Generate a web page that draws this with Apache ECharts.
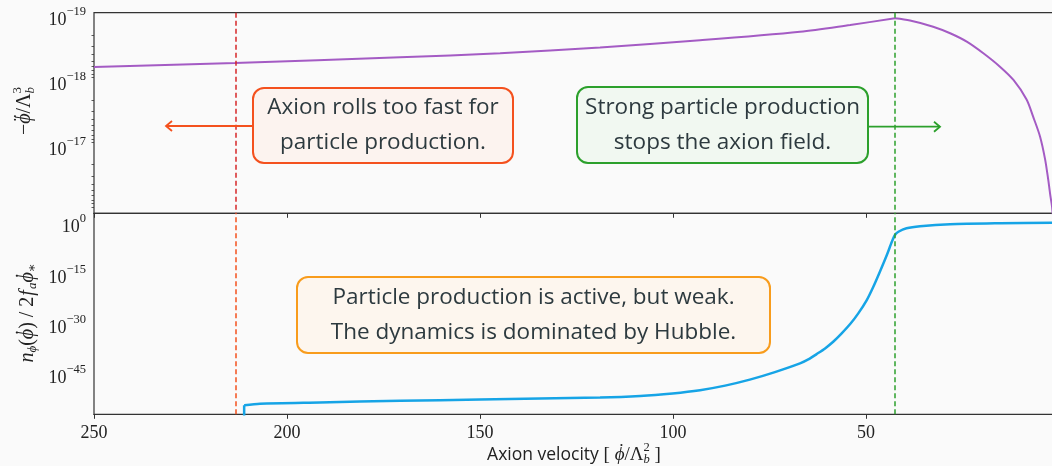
<!DOCTYPE html>
<html><head><meta charset="utf-8">
<script src="https://cdn.jsdelivr.net/npm/echarts@6/dist/echarts.min.js"></script>
<style>html,body{margin:0;padding:0;background:#fafafa}#c{width:1052px;height:466px}</style>
</head><body><div id="c"></div>
<script>
// ---- data ----
const velTop = [250, 213.5, 170.7, 144.8, 118.9, 93.0, 67.1, 54.1, 42.5, 38.6, 32.6, 28.2, 23.9, 19.6, 15.3, 11.8, 8.4, 6.7, 4.9, 3.6, 2.8, 2.2, 1.8, 1.2];
const ddphiTop = [6.2e-19, 5.4e-19, 4.4e-19, 3.8e-19, 3.1e-19, 2.4e-19, 1.77e-19, 1.39e-19, 1.10e-19, 1.19e-19, 1.48e-19, 1.87e-19, 2.52e-19, 3.81e-19, 6.14e-19, 9.86e-19, 1.97e-18, 3.64e-18, 7.41e-18, 1.66e-17, 3.39e-17, 6.28e-17, 8.95e-17, 2.5e-16];
const velBot = [211.1, 211.1, 207.0, 191.5, 170.7, 150.0, 118.9, 108.5, 100.1, 93.0, 86.5, 80.1, 73.6, 67.1, 64.95, 62.8, 60.6, 58.5, 56.3, 54.1, 52.0, 49.8, 48.1, 46.4, 44.6, 43.3, 42.5, 41.6, 39.5, 36.0, 28.2, 15.3, 1.8];
const nPhiBot = [1e-60, 3.4e-55, 9.5e-55, 2.2e-54, 6.6e-54, 1.7e-53, 6.8e-53, 1.9e-52, 1.1e-51, 1.0e-50, 2.3e-49, 1.4e-47, 2.5e-45, 1.0e-42, 1.5e-41, 5.9e-40, 3.0e-38, 2.8e-36, 9.1e-34, 5.4e-31, 8.5e-28, 7.9e-24, 7.6e-20, 2.3e-15, 2.2e-10, 2.1e-6, 2.1e-4, 2.0e-3, 2.1e-2, 8.4e-2, 0.33, 0.66, 1.0];
const topMajorTicks = [1e-19, 1e-18, 1e-17, 1e-16];
const topTickLabels = [1e-19, 1e-18, 1e-17];
const botMajorTicks = [1, 1e-15, 1e-30, 1e-45];
const velRed = 213.3;
const velGreen = 42.5;
const annot1 = 'Axion rolls too fast for\nparticle production.';
const annot2 = 'Strong particle production\nstops the axion field.';
const annot3 = 'Particle production is active, but weak.\nThe dynamics is dominated by Hubble.';

const topMin = Math.pow(10, -19.046), topMax = Math.pow(10, -15.946);
const botMin = Math.pow(10, -57.2), botMax = Math.pow(10, 2.8);
const topMinor = [];
for (let e = -20; e <= -16; e++) for (let m = 2; m <= 9; m++) { const v = m * Math.pow(10, e); if (v > topMin && v < topMax) topMinor.push(v); }

const SERIF = '"Liberation Serif","DejaVu Serif",serif';
const SANS = '"Open Sans","DejaVu Sans",sans-serif';
const INK = '#222';

function fmtPow(v) {
  const e = Math.round(Math.log10(v));
  return '{b|10}{s|' + (e < 0 ? '\u2212' + (-e) : String(e)) + '}';
}
const powRich = {
  b: {fontFamily: SERIF, fontSize: 18, lineHeight: 24, verticalAlign: 'bottom', color: INK},
  s: {fontFamily: SERIF, fontSize: 12.5, lineHeight: 11, verticalAlign: 'top', color: INK}
};

const mctx = document.createElement('canvas').getContext('2d');
function tw(t, font) { mctx.font = font; return mctx.measureText(t).width; }
function mathGroup(cx, cy, rot, parts, color) {
  let x = 0, lastX = 0;
  const kids = [];
  parts.forEach(p => {
    const wd = tw(p.t, p.f);
    let px;
    if (p.stack) { px = lastX + (p.dx || 0); x = Math.max(x, px + wd); }
    else { px = x; lastX = x; x += wd + (p.gap || 0); }
    kids.push({type: 'text', x: px, y: p.dy || 0, style: {text: p.t, font: p.f, fill: color, align: 'left', verticalAlign: 'middle'}});
  });
  kids.forEach(k => { k.x -= x / 2; });
  return {type: 'group', x: cx, y: cy, rotation: rot, children: kids, silent: true};
}
const F = (s, it) => (it ? 'italic ' : '') + s + 'px ' + SERIF;

const titleTop = mathGroup(25, 111, Math.PI / 2, [
  {t: '\u2212', f: F(20)}, {t: '\u03D5', f: F(20, true)}, {t: '\u00A8', f: F(20), dy: -3, dx: 2.5, stack: true},
  {t: '/\u039B', f: F(20)},
  {t: '3', f: F(13), dy: -7}, {t: 'b', f: F(13, true), dy: 6, stack: true}
], INK);
const titleBot = mathGroup(28, 313, Math.PI / 2, [
  {t: 'n', f: F(20, true)}, {t: '\u03D5', f: F(13, true), dy: 5}, {t: '(', f: F(20)},
  {t: '\u03D5', f: F(20, true)}, {t: '\u02D9', f: F(20), dy: -3, dx: 3.5, stack: true},
  {t: ')', f: F(20)}, {t: ' / 2', f: F(20), gap: 1},
  {t: 'f', f: F(20, true), gap: 1}, {t: 'a', f: F(13, true), dy: 5},
  {t: '\u03D5', f: F(20, true)}, {t: '\u02D9', f: F(20), dy: -3, dx: 3.5, stack: true},
  {t: '\u2217', f: F(13), dy: 5}
], INK);
const titleX = mathGroup(574, 455, 0, [
  {t: 'Axion velocity', f: '17.5px ' + SANS}, {t: ' [ ', f: F(19)},
  {t: '\u03D5', f: F(19, true)}, {t: '\u02D9', f: F(19), dy: -3, dx: 3.5, stack: true},
  {t: '/\u039B', f: F(19)}, {t: '2', f: F(12.5), dy: -7}, {t: 'b', f: F(12.5, true), dy: 5, stack: true},
  {t: ' ]', f: F(19)}
], INK);

function box(x, y, w, h, stroke, fill, text) {
  return [
    {type: 'rect', shape: {x: x, y: y, width: w, height: h, r: 11}, style: {fill: fill, stroke: stroke, lineWidth: 2}, silent: true, z: 10},
    {type: 'text', x: x + w / 2, y: y + h / 2, style: {text: text, font: '22.5px ' + SANS, fill: '#2d3a3f', align: 'center', verticalAlign: 'middle', lineHeight: 35}, silent: true, z: 11}
  ];
}
function arrow(x1, x2, y, color) {
  const d = x2 < x1 ? 6 : -6;
  return [
    {type: 'line', shape: {x1: x1, y1: y, x2: x2, y2: y}, style: {stroke: color, lineWidth: 1.8}, silent: true, z: 10},
    {type: 'polyline', shape: {points: [[x2 + d, y - 5], [x2, y], [x2 + d, y + 5]]}, style: {stroke: color, fill: null, lineWidth: 1.8}, silent: true, z: 10}
  ];
}

const chart = echarts.init(document.getElementById('c'), null, {renderer: 'canvas'});
const xCommon = {
  type: 'value', inverse: true, min: 0, max: 250, interval: 50,
  splitLine: {show: false},
  axisLine: {show: true, lineStyle: {color: '#333', width: 1.2}},
  axisTick: {show: true, length: 4.5, lineStyle: {color: '#333', width: 1}}
};
const gridCommon = {left: 94, width: 965, show: true, borderColor: '#333', borderWidth: 1.2, backgroundColor: 'transparent', containLabel: false, outerBoundsMode: 'none'};
const PURPLE = '#a45bc4', BLUE = '#16a4e6';
const peak = velTop.indexOf(velGreen);
const dashed = (c1, c2) => ({silent: true, symbol: ['none', 'none'], label: {show: false},
  lineStyle: {type: [5, 3], width: 1.5},
  data: [{xAxis: velRed, lineStyle: {color: c1}}, {xAxis: velGreen, lineStyle: {color: c2}}]});
chart.setOption({
  animation: false,
  backgroundColor: '#fafafa',
  grid: [
    Object.assign({top: 12.7, height: 200.6}, gridCommon),
    Object.assign({top: 213.3, height: 201}, gridCommon)
  ],
  xAxis: [
    Object.assign({gridIndex: 0, axisLabel: {show: false}}, xCommon),
    Object.assign({gridIndex: 1, axisLabel: {show: true, fontFamily: SERIF, fontSize: 18, color: INK, margin: 10}}, xCommon)
  ],
  yAxis: [
    {type: 'log', gridIndex: 0, position: 'left', inverse: true, min: topMin, max: topMax,
     splitLine: {show: false}, axisLine: {show: true, lineStyle: {color: '#333', width: 1.2}},
     axisTick: {show: true, length: 4.5, customValues: topMajorTicks, lineStyle: {color: '#333'}},
     axisLabel: {customValues: topTickLabels, formatter: fmtPow, rich: powRich, margin: 8, padding: [4, 0, 0, 0]}},
    {type: 'log', gridIndex: 0, position: 'left', inverse: true, min: topMin, max: topMax,
     splitLine: {show: false}, axisLine: {show: false},
     axisTick: {show: true, length: 2.5, customValues: topMinor, lineStyle: {color: '#333', width: 0.8}},
     axisLabel: {show: false}},
    {type: 'log', gridIndex: 1, position: 'left', min: botMin, max: botMax,
     splitLine: {show: false}, axisLine: {show: true, lineStyle: {color: '#333', width: 1.2}},
     axisTick: {show: true, length: 4.5, customValues: botMajorTicks, lineStyle: {color: '#333'}},
     axisLabel: {customValues: botMajorTicks, formatter: fmtPow, rich: powRich, margin: 8, padding: [4, 0, 0, 0]}}
  ],
  series: [
    {type: 'line', xAxisIndex: 0, yAxisIndex: 0, data: velTop.slice(0, peak + 1).map((v, i) => [v, ddphiTop[i]]),
     showSymbol: false, smooth: 0.3, clip: true, lineStyle: {color: PURPLE, width: 2}, itemStyle: {color: PURPLE},
     markLine: dashed('#d62728', '#2ca02c')},
    {type: 'line', xAxisIndex: 0, yAxisIndex: 0, data: velTop.slice(peak).map((v, i) => [v, ddphiTop[i + peak]]),
     showSymbol: false, smooth: 0.3, clip: true, lineStyle: {color: PURPLE, width: 2}, itemStyle: {color: PURPLE}},
    {type: 'line', xAxisIndex: 1, yAxisIndex: 2, data: velBot.slice(0, 2).map((v, i) => [v, nPhiBot[i]]),
     showSymbol: false, smooth: false, clip: true, lineStyle: {color: BLUE, width: 2.5}, itemStyle: {color: BLUE}},
    {type: 'line', xAxisIndex: 1, yAxisIndex: 2, data: velBot.slice(1).map((v, i) => [v, nPhiBot[i + 1]]),
     showSymbol: false, smooth: 0.25, clip: true, lineStyle: {color: BLUE, width: 2.5}, itemStyle: {color: BLUE},
     markLine: dashed('#f4511e', '#2ca02c')}
  ],
  graphic: [].concat(
    box(253, 88, 260, 75, '#f4511e', '#fcf3ef', annot1),
    arrow(253, 166, 126, '#f4511e'),
    box(577, 87, 291, 76, '#2ca02c', '#f1f8f1', annot2),
    arrow(868, 940, 126.7, '#2ca02c'),
    box(297, 277, 473, 76, '#f89c1c', '#fdf6ee', annot3),
    [titleTop, titleBot, titleX]
  )
});
</script>
</body></html>
